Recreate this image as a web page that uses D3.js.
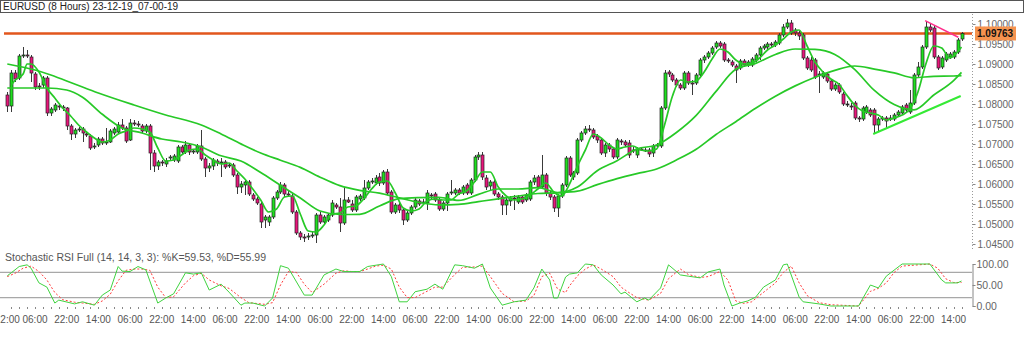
<!DOCTYPE html>
<html>
<head>
<meta charset="utf-8">
<script src="https://cdn.jsdelivr.net/npm/d3@7"></script>
<style>
  body { margin: 0; background: #fff; }
  svg { display: block; }
  text { font-family: "Liberation Sans", Arial, sans-serif; }
</style>
</head>
<body>
<div id="chart"></div>
<script>
// EURUSD 8h candles: [open, high, low, close]
const candles = [
[1.08225,1.08300,1.07800,1.07950],[1.07950,1.08850,1.07800,1.08775],[1.08775,1.08850,1.08550,1.08625],[1.08650,1.09250,1.08600,1.09200],
[1.09200,1.09425,1.09150,1.09225],[1.09225,1.09350,1.09150,1.09200],[1.09175,1.09225,1.08550,1.08775],[1.08750,1.08800,1.08350,1.08425],
[1.08450,1.08525,1.08350,1.08425],[1.08475,1.08700,1.08400,1.08650],[1.08650,1.08700,1.07700,1.07775],[1.07775,1.07925,1.07700,1.07875],
[1.07850,1.08025,1.07800,1.07975],[1.07950,1.08000,1.07850,1.07925],[1.07925,1.07975,1.07825,1.07900],[1.07900,1.07925,1.07350,1.07450],
[1.07450,1.07500,1.07100,1.07250],[1.07250,1.07400,1.07150,1.07350],[1.07350,1.07425,1.07300,1.07375],[1.07375,1.07425,1.07050,1.07275],
[1.07250,1.07300,1.07175,1.07225],[1.07200,1.07250,1.06850,1.06900],[1.06925,1.07025,1.06875,1.06950],[1.06975,1.07175,1.06925,1.07125],
[1.07125,1.07175,1.06975,1.07025],[1.07025,1.07400,1.06975,1.07050],[1.07050,1.07375,1.07025,1.07325],[1.07275,1.07425,1.07225,1.07375],
[1.07300,1.07550,1.07250,1.07475],[1.07475,1.07625,1.07350,1.07400],[1.07400,1.07450,1.07025,1.07075],[1.07100,1.07625,1.07075,1.07525],
[1.07525,1.07600,1.07450,1.07500],[1.07500,1.07575,1.07425,1.07475],[1.07450,1.07500,1.07275,1.07325],[1.07325,1.07500,1.07275,1.07450],
[1.07450,1.07500,1.06350,1.06775],[1.06775,1.06850,1.06300,1.06450],[1.06450,1.06600,1.06350,1.06550],[1.06550,1.06600,1.06450,1.06525],
[1.06500,1.06650,1.06425,1.06575],[1.06650,1.06725,1.06600,1.06675],[1.06600,1.06750,1.06550,1.06700],[1.06575,1.06975,1.06525,1.06925],
[1.06925,1.06975,1.06750,1.06800],[1.06800,1.07075,1.06750,1.06975],[1.06975,1.07025,1.06725,1.06800],[1.06800,1.06875,1.06750,1.06825],
[1.06800,1.07000,1.06750,1.06950],[1.06950,1.07350,1.06575,1.06625],[1.06625,1.06675,1.06175,1.06400],[1.06400,1.06525,1.06300,1.06450],
[1.06450,1.06650,1.06350,1.06600],[1.06575,1.06625,1.06450,1.06525],[1.06525,1.06650,1.06175,1.06550],[1.06550,1.06600,1.06375,1.06425],
[1.06450,1.06525,1.06400,1.06475],[1.06475,1.06525,1.06175,1.06225],[1.06225,1.06275,1.05750,1.05925],[1.05925,1.06075,1.05775,1.06000],
[1.05975,1.06100,1.05725,1.06050],[1.06050,1.06100,1.05700,1.05750],[1.05725,1.05775,1.05575,1.05625],[1.05625,1.05675,1.05475,1.05525],
[1.05500,1.05550,1.04900,1.05050],[1.05100,1.05225,1.04900,1.05175],[1.05050,1.05225,1.04950,1.05175],[1.05175,1.05700,1.05125,1.05650],
[1.05650,1.05850,1.05600,1.05800],[1.05800,1.06050,1.05750,1.05975],[1.05975,1.06025,1.05675,1.05750],[1.05750,1.05825,1.05675,1.05725],
[1.05700,1.05750,1.05250,1.05300],[1.05300,1.05350,1.04725,1.04775],[1.04775,1.04825,1.04600,1.04675],[1.04675,1.04750,1.04550,1.04660],
[1.04675,1.04775,1.04600,1.04700],[1.04700,1.04800,1.04650,1.04725],[1.04725,1.05275,1.04525,1.05225],[1.05225,1.05300,1.05000,1.05050],
[1.05050,1.05225,1.05000,1.05175],[1.05100,1.05275,1.05050,1.05225],[1.05225,1.05600,1.05175,1.05525],[1.05475,1.05525,1.05375,1.05425],
[1.05425,1.05650,1.04800,1.05025],[1.05025,1.05925,1.04975,1.05600],[1.05600,1.05675,1.05525,1.05550],[1.05500,1.05600,1.05300,1.05350],
[1.05350,1.05725,1.05300,1.05675],[1.05625,1.05750,1.05575,1.05700],[1.05650,1.06100,1.05600,1.05900],[1.05900,1.06100,1.05850,1.06050],
[1.06050,1.06150,1.06000,1.06075],[1.06025,1.06225,1.05975,1.06150],[1.06175,1.06275,1.05950,1.06025],[1.06025,1.06350,1.05975,1.06300],
[1.06300,1.06375,1.05725,1.05775],[1.05800,1.05850,1.05250,1.05300],[1.05300,1.05525,1.05250,1.05475],[1.05475,1.05550,1.05275,1.05350],
[1.05350,1.05400,1.04975,1.05100],[1.05100,1.05325,1.05050,1.05275],[1.05275,1.05475,1.05225,1.05425],[1.05425,1.05650,1.05375,1.05600],
[1.05575,1.05625,1.05450,1.05500],[1.05525,1.05625,1.05475,1.05550],[1.05525,1.05850,1.05350,1.05775],[1.05725,1.05775,1.05625,1.05700],
[1.05750,1.05800,1.05550,1.05600],[1.05600,1.05650,1.05325,1.05375],[1.05375,1.05575,1.05325,1.05525],[1.05525,1.05800,1.05325,1.05750],
[1.05775,1.06100,1.05725,1.05800],[1.05775,1.05900,1.05725,1.05850],[1.05850,1.05900,1.05725,1.05775],[1.05775,1.05975,1.05725,1.05925],
[1.05975,1.06025,1.05725,1.05775],[1.05775,1.06150,1.05725,1.06100],[1.06100,1.06725,1.06050,1.06675],[1.06675,1.06800,1.06600,1.06725],
[1.06725,1.06800,1.06100,1.06175],[1.06150,1.06225,1.05850,1.05925],[1.05950,1.06100,1.05850,1.06050],[1.06050,1.06100,1.05700,1.05750],
[1.05750,1.05800,1.05600,1.05675],[1.05675,1.05725,1.05225,1.05475],[1.05475,1.05650,1.05225,1.05600],[1.05575,1.05700,1.05450,1.05650],
[1.05650,1.05725,1.05350,1.05625],[1.05550,1.05725,1.05500,1.05675],[1.05675,1.05725,1.05500,1.05550],[1.05600,1.05775,1.05550,1.05725],
[1.05625,1.06100,1.05575,1.06050],[1.06050,1.06225,1.05975,1.06150],[1.06175,1.06225,1.05875,1.05925],[1.05925,1.06725,1.05875,1.06225],
[1.06225,1.06275,1.05700,1.05775],[1.05775,1.05825,1.05600,1.05675],[1.05675,1.05725,1.05300,1.05400],[1.05400,1.05750,1.05175,1.05700],
[1.05700,1.06025,1.05650,1.05975],[1.05975,1.06700,1.05925,1.06650],[1.06650,1.06700,1.06175,1.06225],[1.06175,1.06325,1.06100,1.06275],
[1.06275,1.07150,1.06225,1.07100],[1.07100,1.07325,1.07050,1.07275],[1.07275,1.07450,1.07225,1.07375],[1.07375,1.07475,1.07300,1.07350],
[1.07350,1.07400,1.07125,1.07175],[1.07200,1.07250,1.07025,1.07100],[1.07100,1.07150,1.06725,1.06775],[1.06775,1.07025,1.06675,1.06975],
[1.06975,1.07025,1.06800,1.06875],[1.06875,1.06925,1.06625,1.06675],[1.06675,1.07150,1.06625,1.07100],[1.07075,1.07125,1.06975,1.07050],
[1.07050,1.07100,1.06925,1.06975],[1.07025,1.07100,1.06650,1.06725],[1.06825,1.06925,1.06775,1.06850],[1.06725,1.06925,1.06650,1.06875],
[1.06875,1.06925,1.06825,1.06862],[1.06850,1.06925,1.06800,1.06840],[1.06850,1.06900,1.06675,1.06750],[1.06775,1.07000,1.06675,1.06950],
[1.06950,1.07025,1.06925,1.06975],[1.06950,1.07950,1.06900,1.07900],[1.07900,1.08850,1.07850,1.08775],[1.08800,1.08850,1.08675,1.08750],
[1.08725,1.08775,1.08550,1.08600],[1.08600,1.08650,1.08425,1.08475],[1.08475,1.08525,1.08350,1.08400],[1.08400,1.08825,1.08350,1.08775],
[1.08775,1.08825,1.08475,1.08525],[1.08525,1.08600,1.08225,1.08510],[1.08525,1.08775,1.08475,1.08725],[1.08725,1.09150,1.08675,1.09100],
[1.09100,1.09225,1.09025,1.09175],[1.09175,1.09325,1.09125,1.09275],[1.09275,1.09450,1.09225,1.09400],[1.09425,1.09575,1.09375,1.09525],
[1.09525,1.09575,1.09400,1.09450],[1.09500,1.09550,1.09050,1.09100],[1.09100,1.09150,1.09025,1.09075],[1.09050,1.09100,1.08925,1.08975],
[1.08950,1.09000,1.08525,1.08850],[1.08900,1.09125,1.08850,1.09075],[1.09075,1.09125,1.08925,1.08975],[1.08975,1.09100,1.08925,1.09050],
[1.08975,1.09175,1.08925,1.09125],[1.09100,1.09275,1.09050,1.09225],[1.09225,1.09450,1.09100,1.09400],[1.09400,1.09500,1.09350,1.09450],
[1.09425,1.09550,1.09375,1.09500],[1.09500,1.09550,1.09425,1.09475],[1.09475,1.09600,1.09425,1.09550],[1.09525,1.09775,1.09475,1.09725],
[1.09725,1.10000,1.09675,1.09925],[1.09925,1.10125,1.09875,1.10025],[1.10025,1.10100,1.09725,1.09775],[1.09850,1.09900,1.09700,1.09775],
[1.09775,1.09825,1.09600,1.09700],[1.09725,1.09775,1.09100,1.09150],[1.09150,1.09200,1.08850,1.08900],[1.09100,1.09175,1.08800,1.08850],
[1.09100,1.09150,1.08625,1.08675],[1.08725,1.08825,1.08275,1.08750],[1.08675,1.08825,1.08625,1.08775],[1.08750,1.08800,1.08525,1.08575],
[1.08575,1.08625,1.08325,1.08375],[1.08375,1.08525,1.08325,1.08475],[1.08475,1.08525,1.08250,1.08300],[1.08250,1.08300,1.07950,1.08000],
[1.08000,1.08075,1.07925,1.07990],[1.07950,1.08025,1.07850,1.07925],[1.08025,1.08075,1.07600,1.07650],[1.07650,1.07700,1.07550,1.07625],
[1.07625,1.07950,1.07575,1.07900],[1.07800,1.07975,1.07750,1.07925],[1.07850,1.07900,1.07675,1.07725],[1.07850,1.07900,1.07275,1.07475],
[1.07475,1.07675,1.07300,1.07625],[1.07625,1.07700,1.07575,1.07650],[1.07650,1.07700,1.07400,1.07575],[1.07625,1.07725,1.07575,1.07650],
[1.07625,1.07775,1.07575,1.07725],[1.07725,1.07850,1.07675,1.07800],[1.07775,1.07975,1.07725,1.07925],[1.07975,1.08025,1.07800,1.07850],
[1.07800,1.08350,1.07750,1.08025],[1.08025,1.08775,1.07975,1.08725],[1.08725,1.09050,1.08675,1.08925],[1.08925,1.09475,1.08875,1.09425],
[1.09425,1.10050,1.09375,1.09925],[1.09925,1.10025,1.09800,1.09850],[1.09900,1.09975,1.09125,1.09175],[1.09175,1.09225,1.08850,1.08900],
[1.08925,1.09200,1.08875,1.09150],[1.09100,1.09300,1.09050,1.09250],[1.09175,1.09300,1.09125,1.09250],[1.09175,1.09350,1.09125,1.09300],
[1.09300,1.09650,1.09250,1.09600],[1.09625,1.09800,1.09575,1.09763]
];

// moving averages: [bar, price]
const maFast = [
[1,1.08475],[2,1.08600],[4,1.08750],[5,1.09000],[6,1.09000],[8,1.08800],[10,1.08400],[12,1.08150],[14,1.07900],[16,1.07700],
[18,1.07475],[20,1.07300],[22,1.07150],[24,1.07050],[26,1.07100],[28,1.07250],[30,1.07325],[32,1.07400],[34,1.07375],[36,1.07300],
[38,1.06900],[40,1.06575],[42,1.06600],[44,1.06725],[46,1.06850],[48,1.06875],[50,1.06725],[52,1.06600],[54,1.06500],[56,1.06525],
[58,1.06325],[60,1.06125],[62,1.05875],[64,1.05600],[66,1.05300],[68,1.05375],[70,1.05675],[72,1.05700],[74,1.05250],[76,1.04825],
[78,1.04800],[80,1.04975],[82,1.05250],[84,1.05275],[86,1.05425],[88,1.05450],[90,1.05625],[92,1.05875],[94,1.06050],[96,1.06075],
[98,1.05775],[100,1.05400],[102,1.05325],[104,1.05375],[106,1.05575],[108,1.05625],[110,1.05600],[112,1.05600],[114,1.05750],[116,1.05825],
[118,1.06050],[120,1.06300],[122,1.06300],[124,1.05925],[126,1.05700],[128,1.05600],[130,1.05625],[132,1.05725],[134,1.05875],[136,1.06025],
[138,1.05800],[140,1.05700],[142,1.06000],[144,1.06450],[146,1.06850],[148,1.07250],[150,1.07150],[152,1.06975],[154,1.06875],[156,1.06925],
[158,1.06950],[160,1.06850],[162,1.06825],[164,1.06875],[166,1.07475],[168,1.08200],[170,1.08600],[172,1.08550],[174,1.08575],[176,1.08800],
[178,1.09125],[180,1.09375],[182,1.09300],[184,1.09100],[186,1.09000],[188,1.09025],[190,1.09150],[192,1.09350],[194,1.09475],[196,1.09625],
[198,1.09800],[200,1.09850],[202,1.09450],[204,1.09050],[206,1.08800],[208,1.08625],[210,1.08500],[212,1.08225],[214,1.07975],[216,1.07825],
[218,1.07775],[220,1.07725],[222,1.07600],[224,1.07650],[226,1.07725],[228,1.07875],[230,1.08300],[232,1.09000],[234,1.09450],[236,1.09400],
[238,1.09150],[240,1.09300],[241,1.09425]
];
const maMid = [
[0,1.08400],[5,1.08400],[10,1.08400],[15,1.08350],[19,1.08170],[24,1.07743],[29,1.07400],[34,1.07275],[39,1.07125],[44,1.07050],
[49,1.06925],[54,1.06705],[59,1.06575],[64,1.06288],[69,1.05968],[74,1.05650],[79,1.05325],[84,1.05238],[89,1.05243],[94,1.05450],
[99,1.05633],[104,1.05658],[109,1.05665],[114,1.05590],[119,1.05740],[124,1.05875],[129,1.05875],[134,1.05910],[139,1.05788],[144,1.05925],
[149,1.06333],[154,1.06583],[159,1.06875],[164,1.06975],[169,1.07288],[174,1.07715],[179,1.08315],[184,1.08868],[189,1.09015],[194,1.09238],
[199,1.09375],[204,1.09365],[209,1.09240],[214,1.08865],[219,1.08338],[224,1.07985],[229,1.07853],[234,1.08225],[239,1.08585],[241,1.08790]
];
const maSlow = [
[0,1.09000],[7,1.08850],[11,1.08725],[17,1.08500],[23,1.08275],[32,1.07975],[40,1.07725],[49,1.07475],[54,1.07250],[59,1.07003],
[64,1.06775],[69,1.06595],[74,1.06415],[79,1.06170],[84,1.05958],[89,1.05840],[94,1.05773],[99,1.05653],[104,1.05540],[109,1.05478],
[114,1.05493],[119,1.05560],[124,1.05628],[129,1.05700],[134,1.05763],[139,1.05780],[144,1.05820],[149,1.05983],[154,1.06133],[159,1.06260],
[164,1.06375],[169,1.06600],[174,1.06868],[179,1.07238],[184,1.07558],[189,1.07893],[194,1.08195],[199,1.08453],[204,1.08670],[209,1.08840],
[214,1.08950],[219,1.08873],[224,1.08778],[229,1.08655],[234,1.08693],[239,1.08700],[241,1.08710]
];

const supportLine = [[218.7,1.07250],[240.8,1.08200]];
const resistLine = [[231.8,1.10083],[240.2,1.09668]];
const lastPrice = 1.09763;
const priceTicks = [1.100,1.095,1.090,1.085,1.080,1.075,1.070,1.065,1.060,1.055,1.050,1.045];

// Stochastic RSI Full (14, 14, 3, 3): [bar, value]
const stochK = [
[0,72],[1,79],[3,94],[5,98],[6,90],[8,55],[10,45],[12,7],[13,14],[17,5],[19,10],[22,2],[24,26],[26,38],[28,94],[29,83],[31,82],
[33,94],[35,86],[38,7],[40,19],[42,29],[45,79],[47,76],[49,79],[51,38],[54,52],[56,33],[59,2],[60,7],[62,7],[65,0],[67,19],[69,96],
[71,90],[75,26],[77,26],[80,74],[83,88],[85,82],[87,82],[89,82],[91,94],[95,100],[97,70],[99,10],[101,10],[103,34],[106,40],[108,52],
[110,40],[113,98],[115,96],[118,90],[120,100],[122,43],[125,2],[128,10],[131,14],[133,43],[135,88],[137,62],[138,19],[139,19],[141,69],
[142,76],[144,79],[146,100],[148,98],[150,74],[153,50],[155,29],[156,33],[159,10],[161,19],[162,14],[165,43],[167,98],[170,74],[172,71],
[175,67],[177,81],[180,88],[181,50],[183,0],[185,7],[187,12],[189,21],[191,45],[194,62],[196,98],[197,100],[200,21],[201,10],[205,5],
[208,0],[215,0],[218,50],[220,43],[222,71],[226,100],[233,100],[236,62],[237,55],[240,55],[241,59.53]
];
const stochD = [
[0,70],[2,78],[4,90],[6,95],[8,82],[10,62],[12,32],[14,15],[17,9],[19,7],[22,4],[24,12],[26,28],[28,60],[30,85],[32,88],[34,88],
[36,85],[38,45],[40,20],[42,22],[45,55],[47,72],[49,78],[51,62],[54,48],[56,42],[59,20],[61,8],[63,6],[65,4],[67,8],[69,50],[71,82],
[73,80],[75,52],[77,32],[80,52],[83,78],[85,84],[87,82],[89,82],[91,88],[93,95],[95,97],[97,88],[99,45],[101,20],[103,20],[106,35],
[108,45],[110,45],[113,75],[115,92],[118,93],[120,95],[122,70],[125,30],[128,10],[131,12],[133,25],[135,70],[137,78],[139,40],[141,32],
[142,48],[144,72],[146,88],[148,98],[150,88],[153,70],[155,45],[157,32],[159,20],[162,14],[165,30],[167,65],[170,88],[172,75],[175,68],
[177,70],[180,82],[182,62],[184,12],[186,6],[188,10],[190,25],[192,40],[194,55],[196,80],[198,95],[200,55],[202,25],[205,8],[208,3],
[215,0],[218,35],[220,42],[222,55],[224,80],[226,95],[233,100],[235,90],[237,65],[239,56],[241,55.99]
];
const stochLevels = [80, 20];
const stochTicks = [100, 50, 0];

const timeBars = [0,7,15,23,31,39,47,55,63,71,79,87,95,103,111,119,127,135,143,151,159,167,175,183,191,199,207,215,223,231,239];
const timeLabels = ["22:00","06:00","22:00","14:00","06:00","22:00","14:00","06:00","22:00","14:00","06:00","22:00","14:00","06:00",
  "22:00","14:00","06:00","22:00","14:00","06:00","22:00","14:00","06:00","22:00","14:00","06:00","22:00","14:00","06:00","22:00","14:00"];

const W = 1024, H = 342, plotRight = 972;

const svg = d3.select("#chart").append("svg")
  .attr("width", W).attr("height", H);

svg.append("rect").attr("width", W).attr("height", H).attr("fill", "#fff");

// title bar
svg.append("rect")
  .attr("x", 0.5).attr("y", 0.5).attr("width", W - 1).attr("height", 12)
  .attr("fill", "#fff").attr("stroke", "#555");
svg.append("text")
  .attr("x", 3).attr("y", 10)
  .attr("font-size", 10).attr("fill", "#222")
  .text("EURUSD (8 Hours) 23-12-19_07-00-19");

const x = d3.scaleLinear().domain([0, candles.length - 1]).range([7.3, 961.5]);
const y = d3.scaleLinear().domain([1.045, 1.10]).range([244, 24]);
const ys = d3.scaleLinear().domain([0, 100]).range([306, 264]);

svg.append("clipPath").attr("id", "main-clip")
  .append("rect").attr("x", 0).attr("y", 13).attr("width", plotRight).attr("height", 240);

const main = svg.append("g").attr("clip-path", "url(#main-clip)");

// last price line
main.append("line")
  .attr("x1", 4).attr("x2", plotRight)
  .attr("y1", y(lastPrice)).attr("y2", y(lastPrice))
  .attr("stroke", "#e2561d").attr("stroke-width", 2.5);

// candles
const bull = "#1fe01f", bear = "#e8167c";
const cg = main.append("g");
cg.selectAll("line")
  .data(candles)
  .join("line")
    .attr("x1", (d, i) => Math.round(x(i)) + 0.5)
    .attr("x2", (d, i) => Math.round(x(i)) + 0.5)
    .attr("y1", d => y(d[1]))
    .attr("y2", d => y(d[2]))
    .attr("stroke", "#3a3a3a").attr("stroke-width", 1);

cg.selectAll("rect")
  .data(candles)
  .join("rect")
    .attr("x", (d, i) => Math.round(x(i)) - 1)
    .attr("y", d => y(Math.max(d[0], d[3])))
    .attr("width", 3)
    .attr("height", d => Math.max(1, Math.abs(y(d[0]) - y(d[3]))))
    .attr("fill", d => Math.abs(d[0] - d[3]) < 0.0001 ? "#222" : (d[3] > d[0] ? bull : bear))
    .attr("stroke", "#222").attr("stroke-width", 0.7);

// moving averages
const maLine = d3.line().x(d => x(d[0])).y(d => y(d[1])).curve(d3.curveMonotoneX);
[maSlow, maMid, maFast].forEach(s => {
  main.append("path").datum(s)
    .attr("d", maLine)
    .attr("fill", "none").attr("stroke", "#27c927").attr("stroke-width", 1.7);
});

// trend lines
const tLine = d3.line().x(d => x(d[0])).y(d => y(d[1]));
main.append("path").datum(supportLine).attr("d", tLine)
  .attr("fill", "none").attr("stroke", "#35ea35").attr("stroke-width", 2);
main.append("path").datum(resistLine).attr("d", tLine)
  .attr("fill", "none").attr("stroke", "#ff2e8c").attr("stroke-width", 1.5);

// price axis
const yAxis = svg.append("g")
  .attr("transform", `translate(${plotRight + 0.5},0)`)
  .call(d3.axisRight(y).tickValues(priceTicks).tickFormat(d3.format(".5f")).tickSize(3).tickPadding(2));
yAxis.select(".domain").remove();
yAxis.selectAll("line").attr("stroke", "#888");
yAxis.selectAll("text").attr("font-size", 10).attr("fill", "#666").attr("font-family", "Liberation Sans, Arial, sans-serif");
svg.append("line")
  .attr("x1", plotRight + 0.5).attr("x2", plotRight + 0.5).attr("y1", 14).attr("y2", 250)
  .attr("stroke", "#999").attr("stroke-dasharray", "1,2");

// last price tag
svg.append("rect")
  .attr("x", 975).attr("y", y(lastPrice) - 7).attr("width", 41).attr("height", 14)
  .attr("fill", "#f5934f");
svg.append("text")
  .attr("x", 977).attr("y", y(lastPrice) + 4)
  .attr("font-size", 10).attr("font-weight", "bold").attr("fill", "#111")
  .text(d3.format(".5f")(lastPrice));

// stochastic panel
svg.append("text")
  .attr("x", 5).attr("y", 260.5)
  .attr("font-size", 10).attr("fill", "#555")
  .attr("textLength", 261).attr("lengthAdjust", "spacingAndGlyphs")
  .text("Stochastic RSI Full (14, 14, 3, 3): %K=59.53, %D=55.99");

svg.append("g").selectAll("line")
  .data(stochLevels)
  .join("line")
    .attr("x1", 0).attr("x2", plotRight)
    .attr("y1", d => ys(d)).attr("y2", d => ys(d))
    .attr("stroke", "#a8a8a8").attr("stroke-width", 1.4);

const sLine = d3.line().x(d => x(d[0])).y(d => ys(d[1]));
svg.append("path").datum(stochD).attr("d", sLine)
  .attr("fill", "none").attr("stroke", "#ff3b3b").attr("stroke-width", 1)
  .attr("stroke-dasharray", "2,2");
svg.append("path").datum(stochK).attr("d", sLine)
  .attr("fill", "none").attr("stroke", "#3fd33f").attr("stroke-width", 1);

const sAxis = svg.append("g")
  .attr("transform", `translate(${plotRight + 0.5},0)`)
  .call(d3.axisRight(ys).tickValues(stochTicks).tickFormat(d3.format(".2f")).tickSize(3).tickPadding(1));
sAxis.select(".domain").attr("stroke", "#888");
sAxis.selectAll("line").attr("stroke", "#888");
sAxis.selectAll("text").attr("font-size", 10.5).attr("fill", "#666").attr("font-family", "Liberation Sans, Arial, sans-serif");

// time axis
const tickBars = d3.range(1, candles.length, 2);
svg.append("g").selectAll("line")
  .data(tickBars)
  .join("line")
    .attr("x1", d => Math.round(x(d)) + 0.5).attr("x2", d => Math.round(x(d)) + 0.5)
    .attr("y1", 307).attr("y2", 309)
    .attr("stroke", "#888");

svg.append("g").selectAll("text")
  .data(timeBars)
  .join("text")
    .attr("x", d => x(d))
    .attr("y", 323)
    .attr("text-anchor", "middle")
    .attr("font-size", 10).attr("fill", "#555")
    .text((d, i) => timeLabels[i]);
</script>
</body>
</html>
